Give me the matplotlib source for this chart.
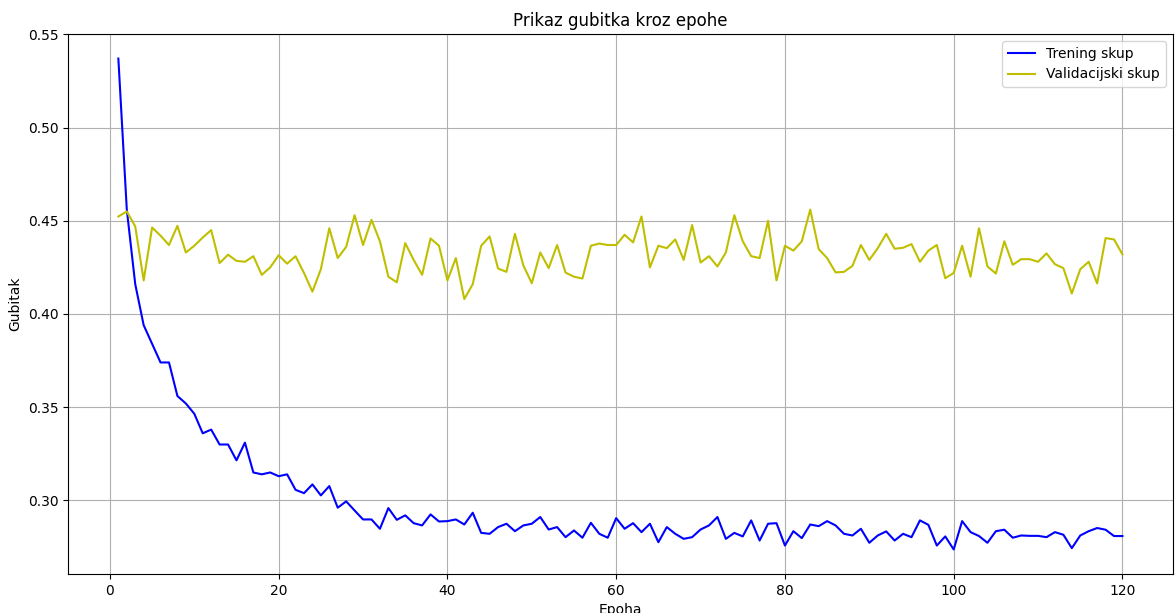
import numpy as np
import matplotlib
matplotlib.use("Agg")
import matplotlib.pyplot as plt

epochs = list(range(1, 121))

train_loss = [
    0.537, 0.456, 0.416, 0.394, 0.384, 0.374, 0.374, 0.356, 0.352, 0.3465,
    0.336, 0.338, 0.330, 0.330, 0.3215, 0.331, 0.315, 0.314, 0.315, 0.313,
    0.314, 0.3057, 0.3039, 0.3086, 0.3027, 0.3077, 0.2961, 0.2995, 0.2946, 0.2898,
    0.2898, 0.2848, 0.2959, 0.2896, 0.292, 0.2878, 0.2866, 0.2925, 0.2887, 0.2889,
    0.2898, 0.2871, 0.2934, 0.2826, 0.2821, 0.2857, 0.2875, 0.2835, 0.2866, 0.2875,
    0.2911, 0.2844, 0.2857, 0.2803, 0.2839, 0.280, 0.288, 0.2821, 0.280, 0.2905,
    0.2848, 0.2878, 0.283, 0.2875, 0.2776, 0.2857, 0.2821, 0.2794, 0.2803, 0.2844,
    0.2866, 0.2911, 0.2794, 0.2826, 0.2807, 0.2893, 0.2785, 0.2875, 0.2878, 0.2758,
    0.2835, 0.2798, 0.2871, 0.2862, 0.2889, 0.2866, 0.2821, 0.2812, 0.2848, 0.2773,
    0.2812, 0.2834, 0.2785, 0.2821, 0.2803, 0.2893, 0.2869, 0.2758, 0.2807, 0.2737,
    0.2889, 0.283, 0.2809, 0.2773, 0.2835, 0.2843, 0.280, 0.2812, 0.281, 0.281,
    0.2803, 0.283, 0.2816, 0.2744, 0.2812, 0.2835, 0.2852, 0.2843, 0.2809, 0.2809,
]

val_loss = [
    0.4523, 0.455, 0.447, 0.418, 0.4464, 0.442, 0.437, 0.4473, 0.433, 0.4366,
    0.441, 0.445, 0.4273, 0.4318, 0.4285, 0.428, 0.431, 0.421, 0.425, 0.4315,
    0.427, 0.431, 0.422, 0.412, 0.424, 0.446, 0.430, 0.436, 0.453, 0.437,
    0.4505, 0.439, 0.420, 0.417, 0.438, 0.429, 0.421, 0.4405, 0.4366, 0.418,
    0.430, 0.408, 0.416, 0.4366, 0.4416, 0.4244, 0.4226, 0.443, 0.426, 0.4165,
    0.433, 0.4246, 0.437, 0.4222, 0.420, 0.419, 0.4366, 0.4378, 0.437, 0.437,
    0.4425, 0.4384, 0.4523, 0.425, 0.4366, 0.4353, 0.440, 0.429, 0.4477, 0.4276,
    0.431, 0.4255, 0.433, 0.453, 0.439, 0.431, 0.430, 0.450, 0.418, 0.4366,
    0.434, 0.439, 0.456, 0.4348, 0.430, 0.4223, 0.4226, 0.4258, 0.437, 0.429,
    0.4353, 0.443, 0.435, 0.4355, 0.4375, 0.428, 0.434, 0.437, 0.4192, 0.422,
    0.4366, 0.420, 0.446, 0.4255, 0.4217, 0.439, 0.4264, 0.4294, 0.4294, 0.428,
    0.4325, 0.4267, 0.4246, 0.411, 0.424, 0.428, 0.4164, 0.4407, 0.440, 0.432,
]

fig, ax = plt.subplots(figsize=(11.75, 6.13), dpi=100)
# the reference crops the x label at the bottom edge, keep that framing
fig.subplots_adjust(left=0.058, right=0.998, top=0.9445, bottom=0.0636)

ax.plot(epochs, train_loss, color="b", label="Trening skup")
ax.plot(epochs, val_loss, color="y", label="Validacijski skup")
ax.set_title("Prikaz gubitka kroz epohe")
ax.set_xlabel("Epoha")
ax.set_ylabel("Gubitak")
ax.grid(True)
ax.legend(loc="upper right")

plt.savefig("out.png", dpi=100)
